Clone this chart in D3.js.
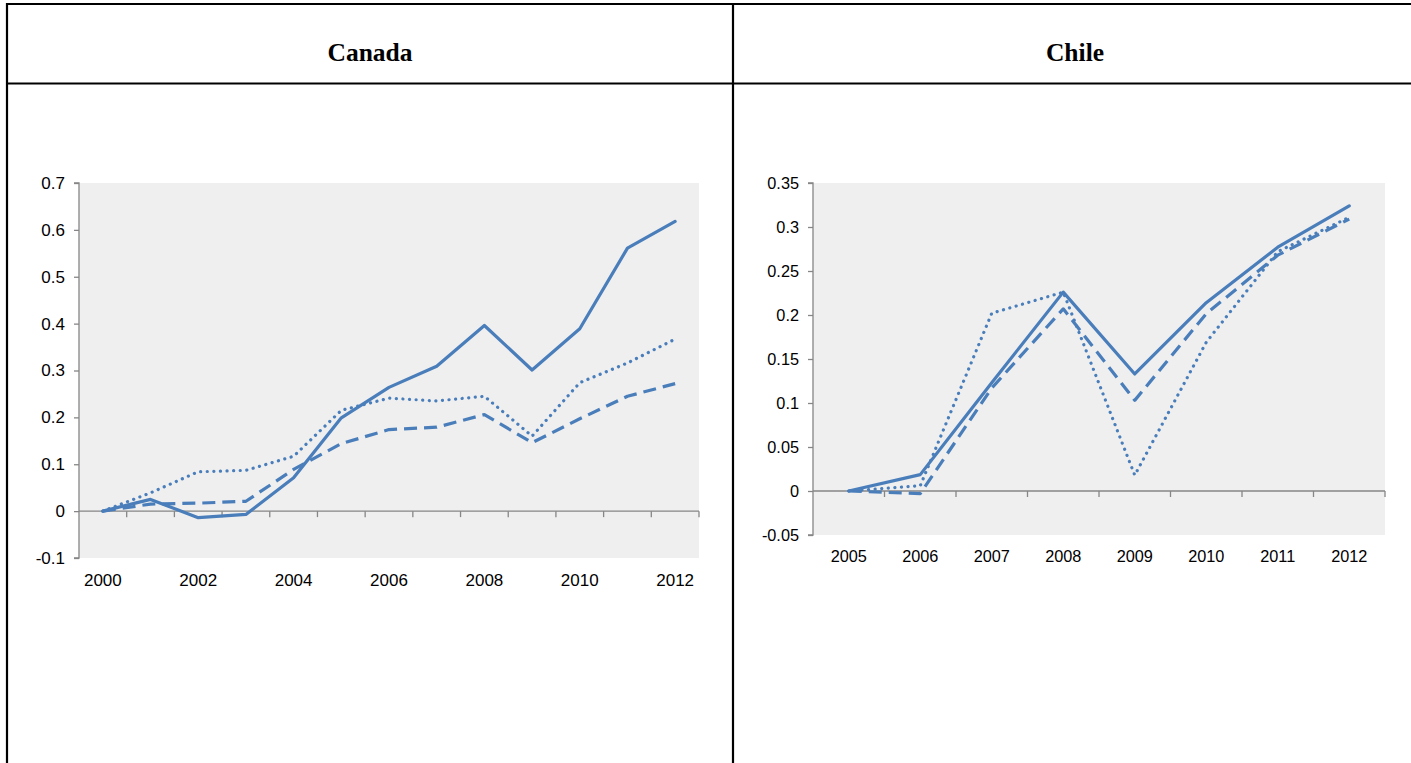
<!DOCTYPE html>
<html>
<head>
<meta charset="utf-8">
<script src="https://cdn.jsdelivr.net/npm/d3@7"></script>
<style>
  html, body { margin: 0; padding: 0; background: #fff; }
  svg { display: block; }
</style>
</head>
<body>
<svg id="chart" width="1411" height="763"></svg>
<script>
// Canada: three indicators, 2000-2012
const canadaYears = [2000, 2001, 2002, 2003, 2004, 2005, 2006, 2007, 2008, 2009, 2010, 2011, 2012];
const canadaSolid  = [0, 0.025, -0.014, -0.007, 0.071, 0.199, 0.264, 0.309, 0.396, 0.301, 0.389, 0.561, 0.618];
const canadaDotted = [0, 0.039, 0.084, 0.087, 0.117, 0.215, 0.241, 0.235, 0.245, 0.160, 0.274, 0.316, 0.367];
const canadaDashed = [0, 0.015, 0.017, 0.021, 0.089, 0.144, 0.174, 0.179, 0.206, 0.146, 0.197, 0.245, 0.272];
const canadaYTicks = [-0.1, 0, 0.1, 0.2, 0.3, 0.4, 0.5, 0.6, 0.7];
const canadaXLabels = [2000, 2002, 2004, 2006, 2008, 2010, 2012];

// Chile: three indicators, 2005-2012
const chileYears = [2005, 2006, 2007, 2008, 2009, 2010, 2011, 2012];
const chileSolid  = [0, 0.0186, 0.123, 0.226, 0.133, 0.214, 0.277, 0.324];
const chileDotted = [0, 0.006, 0.202, 0.226, 0.018, 0.169, 0.272, 0.311];
const chileDashed = [0, -0.003, 0.117, 0.207, 0.103, 0.2015, 0.268, 0.309];
const chileYTicks = [-0.05, 0, 0.05, 0.1, 0.15, 0.2, 0.25, 0.3, 0.35];
const chileXLabels = [2005, 2006, 2007, 2008, 2009, 2010, 2011, 2012];

const svg = d3.select("#chart");
const lineColor = "#4a7ebb";
const axisColor = "#868686";

// Table frame
const frame = svg.append("g").attr("stroke", "#000").attr("stroke-width", 2.2);
frame.append("line").attr("x1", 6).attr("x2", 1411).attr("y1", 4).attr("y2", 4);
frame.append("line").attr("x1", 6).attr("x2", 1411).attr("y1", 83.5).attr("y2", 83.5);
frame.append("line").attr("x1", 7).attr("x2", 7).attr("y1", 3).attr("y2", 763);
frame.append("line").attr("x1", 733).attr("x2", 733).attr("y1", 3).attr("y2", 763);

// Panel titles
svg.append("text").attr("x", 370).attr("y", 61).attr("text-anchor", "middle")
  .attr("font-family", "'Liberation Serif', 'Times New Roman', serif")
  .attr("font-weight", "bold").attr("font-size", 25.5).text("Canada");
svg.append("text").attr("x", 1075).attr("y", 61).attr("text-anchor", "middle")
  .attr("font-family", "'Liberation Serif', 'Times New Roman', serif")
  .attr("font-weight", "bold").attr("font-size", 25.5).text("Chile");

function drawPanel(cfg) {
  const g = svg.append("g");
  const x = d3.scaleBand().domain(cfg.years).range([cfg.left, cfg.right]).paddingInner(0).paddingOuter(0);
  const y = d3.scaleLinear().domain(cfg.yDomain).range([cfg.bottom, cfg.top]);
  const cx = d => x(d) + x.bandwidth() / 2;

  // plot area
  g.append("rect").attr("x", cfg.left).attr("y", cfg.top)
    .attr("width", cfg.right - cfg.left).attr("height", cfg.bottom - cfg.top)
    .attr("fill", "#efefef");

  // y axis
  const yAxis = g.append("g").attr("transform", `translate(${cfg.left},0)`)
    .call(d3.axisLeft(y).tickValues(cfg.yTicks).tickSize(5).tickPadding(9)
      .tickFormat(d => String(+d.toFixed(2))));
  yAxis.select(".domain").attr("stroke", axisColor).attr("stroke-width", 1.3)
    .attr("d", `M-5,${y(cfg.yDomain[1])}H0V${y(cfg.yDomain[0])}H-5`);
  yAxis.selectAll(".tick line").attr("stroke", axisColor).attr("stroke-width", 1.3);
  yAxis.selectAll("text").attr("font-family", "'Liberation Sans', Arial, sans-serif")
    .attr("font-size", cfg.fontSize).attr("fill", "#000");

  // horizontal axis line at zero with category boundary ticks
  const y0 = y(0);
  g.append("line").attr("x1", cfg.left).attr("x2", cfg.right).attr("y1", y0).attr("y2", y0)
    .attr("stroke", axisColor).attr("stroke-width", 1.3);
  const bounds = cfg.years.slice(1).map(d => x(d)).concat([cfg.right]);
  g.selectAll(".xtick").data(bounds).enter().append("line")
    .attr("x1", d => d).attr("x2", d => d).attr("y1", y0).attr("y2", y0 + 6)
    .attr("stroke", axisColor).attr("stroke-width", 1.3);

  // category labels under the plot area
  g.selectAll(".xlab").data(cfg.xLabels).enter().append("text")
    .attr("x", d => cx(d)).attr("y", cfg.bottom + cfg.labelGap)
    .attr("text-anchor", "middle")
    .attr("font-family", "'Liberation Sans', Arial, sans-serif")
    .attr("font-size", cfg.fontSize).attr("fill", "#000")
    .text(d => d);

  const line = d3.line().x((d, i) => cx(cfg.years[i])).y(d => y(d));
  const series = [
    { values: cfg.dotted, dash: "0.1,6.5", cap: "round" },
    { values: cfg.dashed, dash: "13,7", cap: "butt" },
    { values: cfg.solid, dash: null, cap: "round" }
  ];
  series.forEach(s => {
    g.append("path").datum(s.values)
      .attr("d", line)
      .attr("fill", "none")
      .attr("stroke", lineColor)
      .attr("stroke-width", 3.2)
      .attr("stroke-linejoin", "round")
      .attr("stroke-linecap", s.cap)
      .attr("stroke-dasharray", s.dash);
  });
}

drawPanel({
  years: canadaYears, solid: canadaSolid, dotted: canadaDotted, dashed: canadaDashed,
  yTicks: canadaYTicks, xLabels: canadaXLabels, yDomain: [-0.1, 0.7],
  left: 79, right: 699, top: 183, bottom: 558, fontSize: 17, labelGap: 28
});

drawPanel({
  years: chileYears, solid: chileSolid, dotted: chileDotted, dashed: chileDashed,
  yTicks: chileYTicks, xLabels: chileXLabels, yDomain: [-0.05, 0.35],
  left: 813, right: 1385, top: 183, bottom: 535, fontSize: 16.3, labelGap: 27
});
</script>
</body>
</html>
